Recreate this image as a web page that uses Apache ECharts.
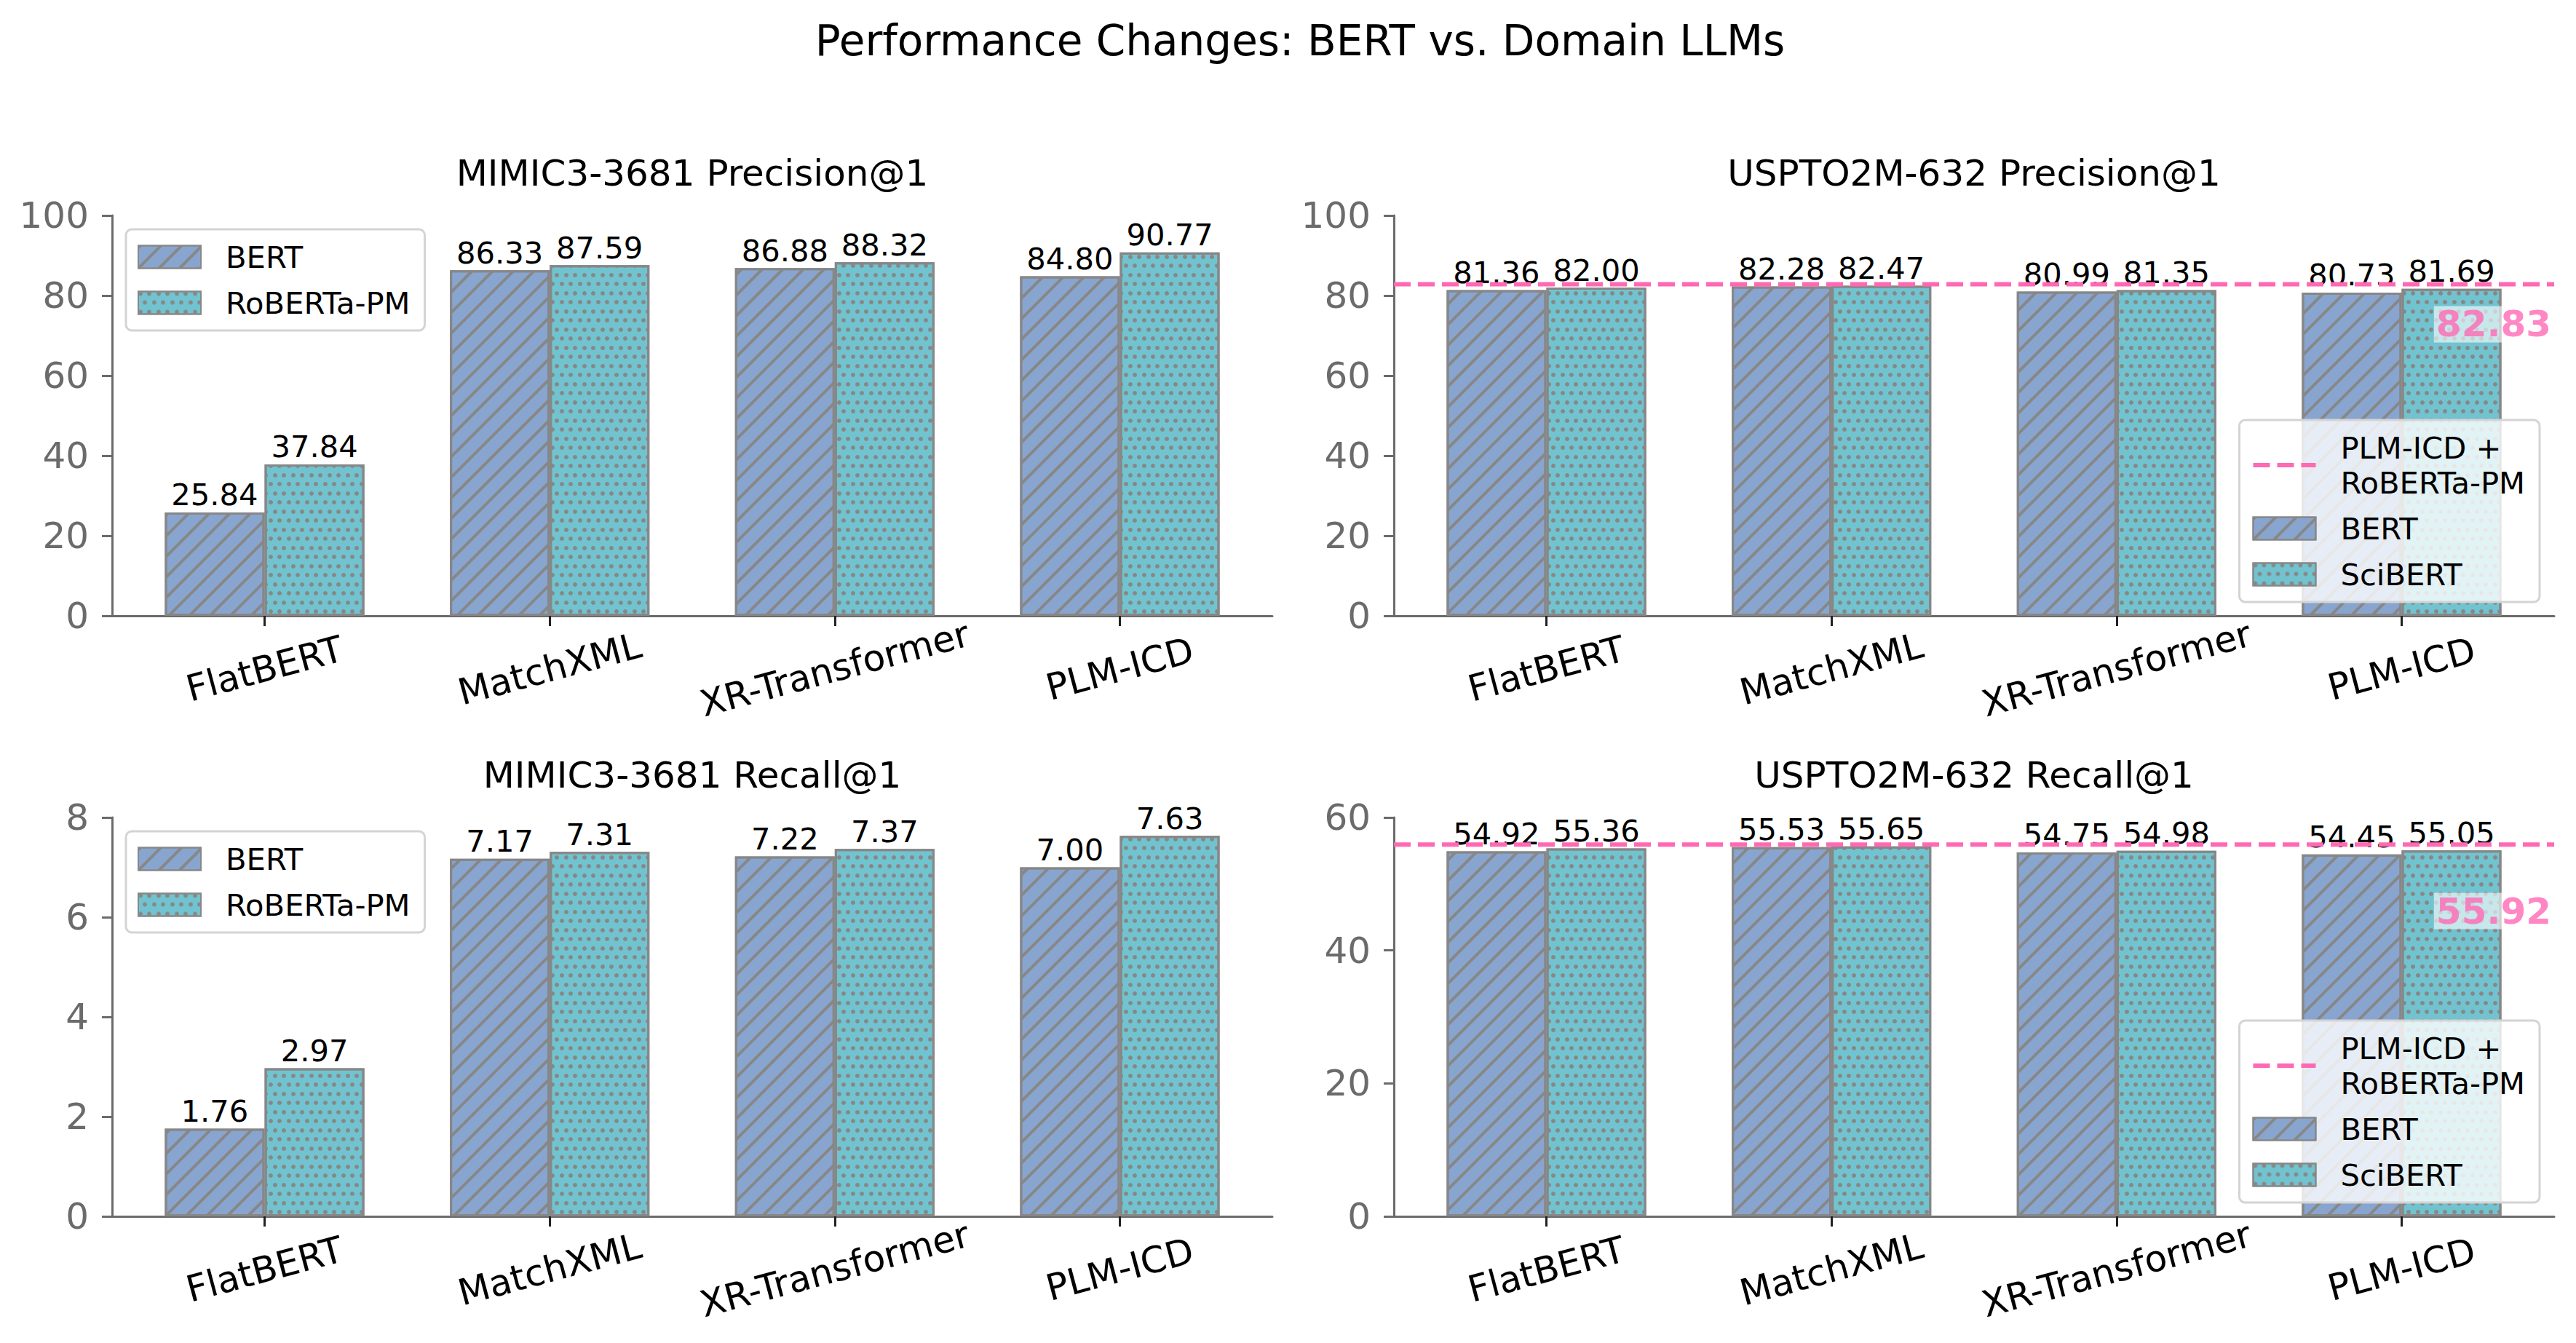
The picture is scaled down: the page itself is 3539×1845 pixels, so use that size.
<!DOCTYPE html>
<html><head><meta charset="utf-8">
<script src="https://cdn.jsdelivr.net/npm/echarts@6/dist/echarts.min.js"></script>
<style>html,body{margin:0;padding:0;background:#fff}#c{width:3539px;height:1845px}</style>
</head><body><div id="c"></div>
<script>
// ---------------- data ----------------
const categories = ['FlatBERT', 'MatchXML', 'XR-Transformer', 'PLM-ICD'];
const mimicPrecisionBERT = [25.84, 86.33, 86.88, 84.80];
const mimicPrecisionRoBERTaPM = [37.84, 87.59, 88.32, 90.77];
const usptoPrecisionBERT = [81.36, 82.28, 80.99, 80.73];
const usptoPrecisionSciBERT = [82.00, 82.47, 81.35, 81.69];
const mimicRecallBERT = [1.76, 7.17, 7.22, 7.00];
const mimicRecallRoBERTaPM = [2.97, 7.31, 7.37, 7.63];
const usptoRecallBERT = [54.92, 55.53, 54.75, 54.45];
const usptoRecallSciBERT = [55.36, 55.65, 54.98, 55.05];
const usptoPrecisionRef = 82.83;
const usptoRecallRef = 55.92;
const refLabelDrop = 10;
const refLineName = 'PLM-ICD +\nRoBERTa-PM';
const yTicksPrecision = [0, 20, 40, 60, 80, 100];
const yTicksMimicRecall = [0, 2, 4, 6, 8];
const yTicksUsptoRecall = [0, 20, 40, 60];
const mainTitle = 'Performance Changes: BERT vs. Domain LLMs';

// ---------------- style ----------------
const FONT = '"DejaVu Sans", sans-serif';
const AXIS_GREY = '#6b6b6b';
const EDGE = '#878787';
const BLUE = '#88a5cf', TEAL = '#71c3cf', PINK = '#ff69b4';
const REF_DASH = [23, 10];
const hatch = {symbol: 'rect', symbolSize: 1, color: EDGE, dashArrayX: [1, 0], dashArrayY: [4, 16], rotation: -Math.PI / 4};
const dots = {symbol: 'circle', symbolSize: 1, color: EDGE, dashArrayX: [[6, 6, 6, 7], [0, 6, 6, 7, 6, 0]], dashArrayY: [6, 6, 6, 7], rotation: 0};

const panels = [
  {title: 'MIMIC3-3681 Precision@1', a: mimicPrecisionBERT, b: mimicPrecisionRoBERTaPM, bName: 'RoBERTa-PM', ticks: yTicksPrecision, ref: null,
   rect: {left: 154, top: 296, width: 1594, height: 550}, titleY: 238, legendPos: {left: 173, top: 315}},
  {title: 'USPTO2M-632 Precision@1', a: usptoPrecisionBERT, b: usptoPrecisionSciBERT, bName: 'SciBERT', ticks: yTicksPrecision, ref: usptoPrecisionRef,
   rect: {left: 1915, top: 296, width: 1594, height: 550}, titleY: 238, legendPos: {right: 50, bottom: 1018}},
  {title: 'MIMIC3-3681 Recall@1', a: mimicRecallBERT, b: mimicRecallRoBERTaPM, bName: 'RoBERTa-PM', ticks: yTicksMimicRecall, ref: null,
   rect: {left: 154, top: 1123, width: 1594, height: 548}, titleY: 1065, legendPos: {left: 173, top: 1142}},
  {title: 'USPTO2M-632 Recall@1', a: usptoRecallBERT, b: usptoRecallSciBERT, bName: 'SciBERT', ticks: yTicksUsptoRecall, ref: usptoRecallRef,
   rect: {left: 1915, top: 1123, width: 1594, height: 548}, titleY: 1065, legendPos: {right: 50, bottom: 193}}
];

const grid = [], xAxis = [], yAxis = [], series = [], legend = [], graphic = [];
graphic.push({type: 'text', x: 1786, y: 56, style: {text: mainTitle, fontSize: 58, fontFamily: FONT, fill: '#000', align: 'center', verticalAlign: 'middle'}});

const barLabel = {show: true, position: 'top', distance: 3, fontSize: 41.67, color: '#000', fontFamily: FONT, formatter: d => d.value.toFixed(2)};

panels.forEach((p, i) => {
  const A = p.rect;
  const unit = A.width / 4.07;
  const B = {left: A.left + 0.035 * unit, top: A.top, width: 4 * unit, height: A.height};
  const ia = 2 * i, ib = 2 * i + 1;
  grid.push({left: A.left, top: A.top, width: A.width, height: A.height});
  grid.push({left: B.left, top: B.top, width: B.width, height: B.height});
  const yMin = p.ticks[0], yMax = p.ticks[p.ticks.length - 1], yInt = p.ticks[1] - p.ticks[0];
  xAxis.push({gridIndex: ia, type: 'value', min: 0, max: 1, axisLine: {show: true, onZero: false, lineStyle: {color: AXIS_GREY, width: 3}},
    axisTick: {show: false}, axisLabel: {show: false}, splitLine: {show: false}});
  xAxis.push({gridIndex: ib, type: 'category', data: categories, axisLine: {show: false},
    axisTick: {show: true, alignWithLabel: true, interval: 0, length: 14, lineStyle: {color: '#222', width: 3}},
    axisLabel: {interval: 0, rotate: 15, align: 'center', verticalAlign: 'middle', margin: 73, fontSize: 50, color: '#000', fontFamily: FONT},
    splitLine: {show: false}});
  yAxis.push({gridIndex: ia, type: 'value', min: yMin, max: yMax, interval: yInt,
    axisLine: {show: true, onZero: false, lineStyle: {color: AXIS_GREY, width: 3}},
    axisTick: {show: true, length: 14, lineStyle: {color: AXIS_GREY, width: 3}},
    axisLabel: {fontSize: 50, color: AXIS_GREY, margin: 32, fontFamily: FONT}, splitLine: {show: false}});
  yAxis.push({gridIndex: ib, type: 'value', min: yMin, max: yMax, show: false});

  series.push({type: 'bar', name: 'BERT', xAxisIndex: ib, yAxisIndex: ib, data: p.a, barWidth: '35%', barGap: '0%',
    itemStyle: {color: BLUE, borderColor: EDGE, borderWidth: 3, decal: hatch}, label: barLabel, emphasis: {disabled: true}, z: 2});
  series.push({type: 'bar', name: p.bName, xAxisIndex: ib, yAxisIndex: ib, data: p.b, barWidth: '35%', barGap: '0%',
    itemStyle: {color: TEAL, borderColor: EDGE, borderWidth: 3, decal: dots}, label: barLabel, emphasis: {disabled: true}, z: 2});

  let items = [{name: 'BERT', icon: 'rect'}, {name: p.bName, icon: 'rect'}];
  if (p.ref !== null) {
    series.push({type: 'line', name: refLineName, xAxisIndex: ia, yAxisIndex: ia, data: [[0, p.ref], [1, p.ref]], symbol: 'none',
      itemStyle: {color: PINK}, lineStyle: {color: PINK, width: 6, type: REF_DASH}, z: 3, silent: true, emphasis: {disabled: true}});
    series.push({type: 'scatter', name: 'refLabel' + i, xAxisIndex: ia, yAxisIndex: ia, data: [[1, p.ref - refLabelDrop]], symbolSize: 0, z: 6, silent: true,
      label: {show: true, position: 'left', distance: 1, formatter: p.ref.toFixed(2), color: PINK, fontWeight: 'bold', fontSize: 50, lineHeight: 50,
        fontFamily: FONT, backgroundColor: 'rgba(255,255,255,0.75)', padding: [0, 3, 0, 3]}});
    items = [{name: refLineName, itemStyle: {color: 'rgba(0,0,0,0)', opacity: 0, borderWidth: 0},
      lineStyle: {color: PINK, width: 6, type: REF_DASH}}].concat(items);
  }
  legend.push(Object.assign({orient: 'vertical', align: 'left', data: items, itemWidth: 86, itemHeight: 31, itemGap: 15,
    padding: [14, 20, 14, 16], backgroundColor: 'rgba(255,255,255,0.8)', borderColor: '#d4d4d4', borderWidth: 3, borderRadius: 8,
    lineStyle: {width: 6},
    textStyle: {fontSize: 41.67, lineHeight: 48, color: '#000', fontFamily: FONT, padding: [0, 0, 0, 29]}, selectedMode: false}, p.legendPos));

  graphic.push({type: 'text', x: A.left + A.width / 2, y: p.titleY, style: {text: p.title, fontSize: 50, fontFamily: FONT, fill: '#000', align: 'center', verticalAlign: 'middle'}});
});

const chart = echarts.init(document.getElementById('c'), null, {renderer: 'svg'});
chart.setOption({backgroundColor: '#fff', animation: false, grid, xAxis, yAxis, series, legend, graphic});
</script></body></html>
